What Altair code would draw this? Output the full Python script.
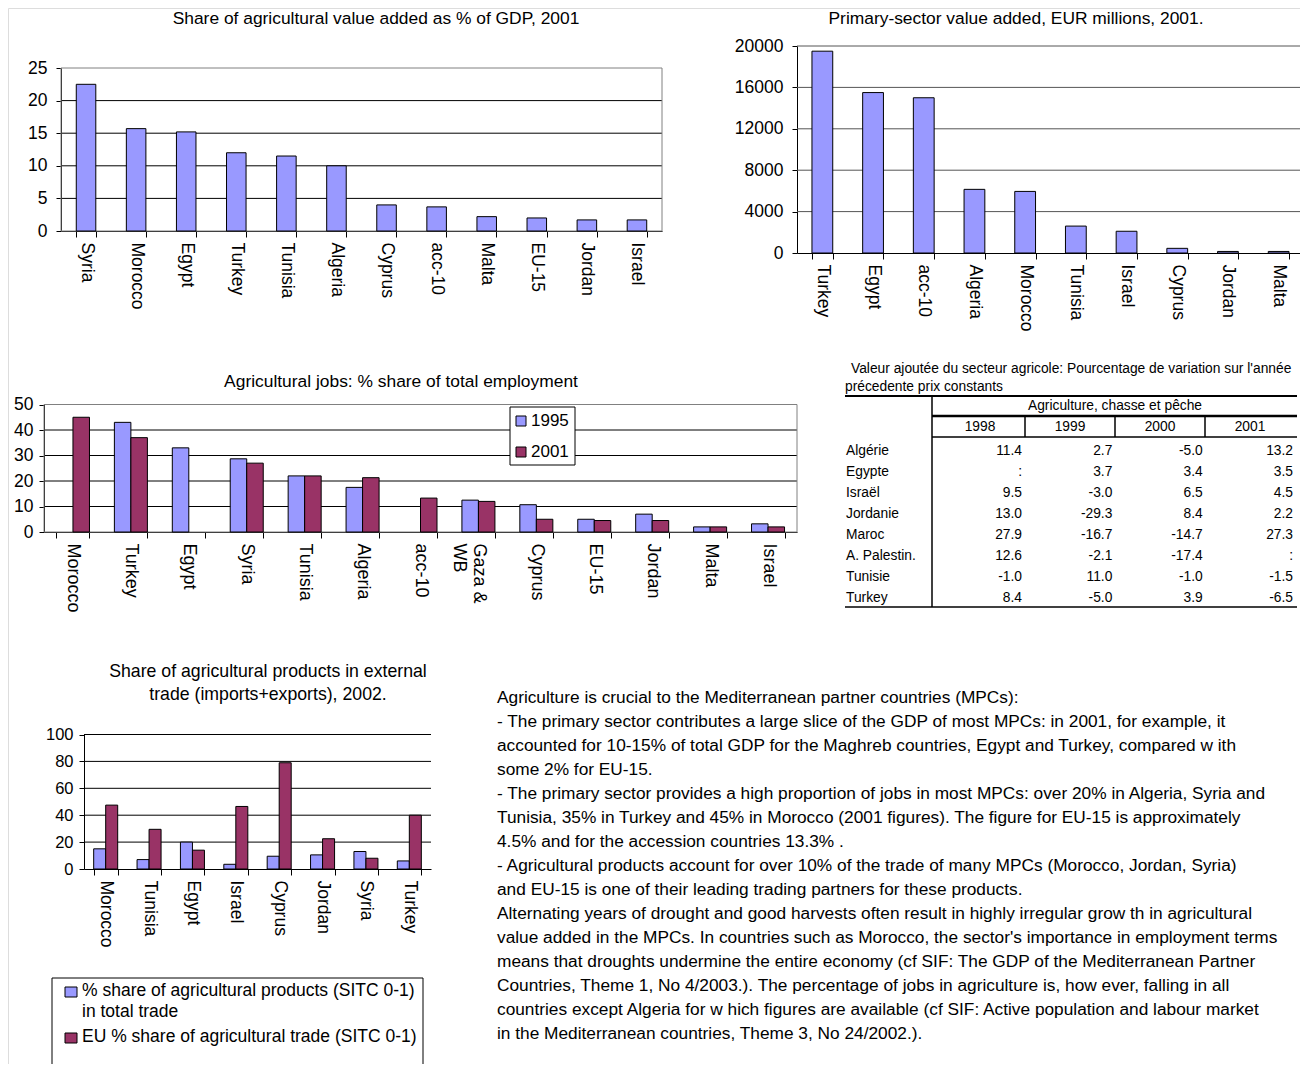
import altair as alt
import pandas as pd

W, H = 1292, 1056
FONT = "Liberation Sans"
BLUE = "#9999FF"
PLUM = "#993366"

# ---------------- data ----------------
A_title = "Share of agricultural value added as % of GDP, 2001"
A_countries = ["Syria", "Morocco", "Egypt", "Turkey", "Tunisia", "Algeria",
               "Cyprus", "acc-10", "Malta", "EU-15", "Jordan", "Israel"]
A_values = [22.5, 15.7, 15.2, 12.0, 11.5, 10.0, 4.0, 3.7, 2.2, 2.0, 1.7, 1.7]
A_ticks = [0, 5, 10, 15, 20, 25]

B_title = "Primary-sector value added, EUR millions, 2001."
B_countries = ["Turkey", "Egypt", "acc-10", "Algeria", "Morocco", "Tunisia",
               "Israel", "Cyprus", "Jordan", "Malta"]
B_values = [19500, 15500, 15000, 6150, 5950, 2600, 2100, 450, 150, 150]
B_ticks = [0, 4000, 8000, 12000, 16000, 20000]

C_title = "Agricultural jobs: % share of total employment"
C_countries = ["Morocco", "Turkey", "Egypt", "Syria", "Tunisia", "Algeria", "acc-10",
               "Gaza & WB", "Cyprus", "EU-15", "Jordan", "Malta", "Israel"]
C_series = ["1995", "2001"]
C_1995 = [None, 43.0, 33.0, 28.7, 22.0, 17.5, None, 12.5, 10.7, 5.0, 7.0, 2.0, 3.2]
C_2001 = [45.0, 37.0, None, 27.0, 22.0, 21.3, 13.3, 12.0, 5.0, 4.5, 4.5, 2.0, 2.0]
C_ticks = [0, 10, 20, 30, 40, 50]

D_title = ["Share of agricultural products in external", "trade (imports+exports), 2002."]
D_countries = ["Morocco", "Tunisia", "Egypt", "Israel", "Cyprus", "Jordan", "Syria", "Turkey"]
D_series = ["share", "eu"]
D_share = [15.0, 7.0, 20.0, 3.5, 9.5, 10.5, 13.0, 6.0]
D_eu = [47.5, 29.5, 14.0, 46.5, 79.0, 22.5, 8.0, 40.0]
D_ticks = [0, 20, 40, 60, 80, 100]
D_legend = ["% share of agricultural products (SITC 0-1)\nin total trade",
            "EU % share of agricultural trade (SITC 0-1)"]

T_title = ["Valeur ajoutée du secteur agricole: Pourcentage de variation sur l'année",
           "précedente prix constants"]
T_group = "Agriculture, chasse et pêche"
T_years = ["1998", "1999", "2000", "2001"]
T_rows = ["Algérie", "Egypte", "Israël", "Jordanie", "Maroc", "A. Palestin.", "Tunisie", "Turkey"]
T_1998 = ["11.4", ":", "9.5", "13.0", "27.9", "12.6", "-1.0", "8.4"]
T_1999 = ["2.7", "3.7", "-3.0", "-29.3", "-16.7", "-2.1", "11.0", "-5.0"]
T_2000 = ["-5.0", "3.4", "6.5", "8.4", "-14.7", "-17.4", "-1.0", "3.9"]
T_2001 = ["13.2", "3.5", "4.5", "2.2", "27.3", ":", "-1.5", "-6.5"]

P_lines = [
    "Agriculture is crucial to the Mediterranean partner countries (MPCs):",
    "- The primary sector contributes a large slice of the GDP of most MPCs: in 2001, for example, it",
    "accounted for 10-15% of total GDP for the Maghreb countries, Egypt and Turkey, compared w ith",
    "some 2% for EU-15.",
    "- The primary sector provides a high proportion of jobs in most MPCs: over 20% in Algeria, Syria and",
    "Tunisia, 35% in Turkey and 45% in Morocco (2001 figures). The figure for EU-15 is approximately",
    "4.5% and for the accession countries 13.3% .",
    "- Agricultural products account for over 10% of the trade of many MPCs (Morocco, Jordan, Syria)",
    "and EU-15 is one of their leading trading partners for these products.",
    "Alternating years of drought and good harvests often result in highly irregular grow th in agricultural",
    "value added in the MPCs. In countries such as Morocco, the sector's importance in employment terms",
    "means that droughts undermine the entire economy (cf SIF: The GDP of the Mediterranean Partner",
    "Countries, Theme 1, No 4/2003.). The percentage of jobs in agriculture is, how ever, falling in all",
    "countries except Algeria for w hich figures are available (cf SIF: Active population and labour market",
    "in the Mediterranean countries, Theme 3, No 24/2002.).",
]

ONE = pd.DataFrame({"k": [0]})
TS = 17.4    # title size
TB = 13.8    # table text size


# ---------------- helpers ----------------
def x_axis(bottom, size=17.5, expr=None):
    kw = dict(title=None, orient="bottom", offset=bottom - H, labelAngle=90,
              tickBand="extent", labelFont=FONT, labelFontSize=size, labelColor="black",
              domainColor="black", tickColor="black", tickSize=6, labelPadding=5,
              labelOverlap=False, grid=False, labelLineHeight=size + 2)
    if expr:
        kw["labelExpr"] = expr
    return alt.Axis(**kw)


def y_axis(left, values, size=17.5, pad=8):
    return alt.Axis(title=None, orient="left", offset=-left, values=values, format="d",
                    labelFont=FONT, labelFontSize=size, labelColor="black",
                    domainColor="black", tickColor="black", tickSize=5, labelPadding=pad,
                    grid=False)


def text(s, x, y, size=TS, align="center", baseline="middle", **kw):
    return alt.Chart(pd.DataFrame({"t": [s]})).mark_text(
        font=FONT, fontSize=size, align=align, baseline=baseline, color="black", **kw
    ).encode(x=alt.value(x), y=alt.value(y), text="t:N")


def hrule(x1, x2, y, w=1.0, color="black"):
    return alt.Chart(ONE).mark_rule(color=color, strokeWidth=w).encode(
        x=alt.value(x1), x2=alt.value(x2), y=alt.value(y))


def vrule(x, y1, y2, w=1.0, color="black"):
    return alt.Chart(ONE).mark_rule(color=color, strokeWidth=w).encode(
        x=alt.value(x), y=alt.value(y1), y2=alt.value(y2))


def box(x1, x2, y1, y2, stroke="#808080", fill="white", opacity=0.0):
    return alt.Chart(ONE).mark_rect(fill=fill, fillOpacity=opacity, stroke=stroke,
                                    strokeWidth=1).encode(
        x=alt.value(x1), x2=alt.value(x2), y=alt.value(y1), y2=alt.value(y2))


def simple_block(countries, values, ticks, grid_vals, xr, yr, pin, ycolor, border, ypad):
    X = alt.X("country:N", sort=countries,
              scale=alt.Scale(domain=countries, range=xr, paddingInner=pin, paddingOuter=pin / 2),
              axis=x_axis(yr[0]))
    Y = alt.Y("value:Q", scale=alt.Scale(domain=[ticks[0], ticks[-1]], range=yr, nice=False, zero=True),
              axis=y_axis(xr[0], ticks, pad=ypad))
    grid = alt.Chart(pd.DataFrame({"value": grid_vals})).mark_rule(
        color=ycolor, strokeWidth=1).encode(y=Y, x=alt.value(xr[0]), x2=alt.value(xr[1]))
    bars = alt.Chart(pd.DataFrame({"country": countries, "value": values})).mark_bar(
        fill=BLUE, stroke="black", strokeWidth=1).encode(x=X, y=Y)
    layers = [grid]
    if border:
        layers.append(box(xr[0], xr[1], yr[1], yr[0]))
    layers.append(bars)
    return alt.layer(*layers)


def group_block(countries, series, s1, s2, ticks, grid_vals, xr, yr, pin, xsize, ysize, expr, border):
    rows = []
    for c, a, b in zip(countries, s1, s2):
        if a is not None:
            rows.append({"country": c, "series": series[0], "value": a})
        if b is not None:
            rows.append({"country": c, "series": series[1], "value": b})
    X = alt.X("country:N", sort=countries,
              scale=alt.Scale(domain=countries, range=xr, paddingInner=pin, paddingOuter=pin / 2),
              axis=x_axis(yr[0], xsize, expr))
    Y = alt.Y("value:Q", scale=alt.Scale(domain=[ticks[0], ticks[-1]], range=yr, nice=False, zero=True),
              axis=y_axis(xr[0], ticks, ysize, pad=6))
    grid = alt.Chart(pd.DataFrame({"value": grid_vals})).mark_rule(
        color="black", strokeWidth=1).encode(y=Y, x=alt.value(xr[0]), x2=alt.value(xr[1]))
    bars = alt.Chart(pd.DataFrame(rows)).mark_bar(stroke="black", strokeWidth=1).encode(
        x=X, y=Y,
        xOffset=alt.XOffset("series:N", sort=series,
                            scale=alt.Scale(domain=series, paddingInner=0, paddingOuter=0)),
        color=alt.Color("series:N", scale=alt.Scale(domain=series, range=[BLUE, PLUM]), legend=None),
    )
    layers = [grid]
    if border:
        layers.append(box(xr[0], xr[1], yr[1], yr[0]))
    layers.append(bars)
    return alt.layer(*layers)


# ---------------- chart A ----------------
blockA = simple_block(A_countries, A_values, A_ticks, [5, 10, 15, 20],
                      [53, 654], [223, 60], 0.61, "black", True, 9)
titleA = text(A_title, 368, 11)

# ---------------- chart B ----------------
blockB = simple_block(B_countries, B_values, B_ticks, [4000, 8000, 12000, 16000, 20000],
                      [789, 1296], [245, 38], 0.59, "#555555", False, 9)
titleB = text(B_title, 1008, 11)

# ---------------- chart C ----------------
blockC = group_block(C_countries, C_series, C_1995, C_2001, C_ticks, [10, 20, 30, 40],
                     [36, 789], [524, 396.5], 0.43, 18, 17.5,
                     "datum.label == 'Gaza & WB' ? ['Gaza &', 'WB'] : datum.label", True)
titleC = text(C_title, 393, 374)
legC = [box(502, 567, 399, 457, stroke="black", opacity=1.0)]
for i, (s, col) in enumerate(zip(C_series, [BLUE, PLUM])):
    yc = 413 + 31 * i
    legC.append(box(508, 518, yc - 5, yc + 5, stroke="black", fill=col, opacity=1.0))
    legC.append(text(s, 523, yc, size=17, align="left"))

# ---------------- chart D ----------------
blockD = group_block(D_countries, D_series, D_share, D_eu, D_ticks, [20, 40, 60, 80, 100],
                     [76, 423], [861, 726.5], 0.446, 17.5, 16.5, None, False)
titleD = [text(D_title[0], 260, 664, size=17.7), text(D_title[1], 260, 687, size=17.7)]
legD = [box(44, 415, 970, H + 5, stroke="black", opacity=1.0),
        box(57, 69, 979, 989, stroke="black", fill=BLUE, opacity=1.0),
        box(57, 69, 1025, 1035, stroke="black", fill=PLUM, opacity=1.0),
        alt.Chart(pd.DataFrame({"t": [D_legend[0]]})).mark_text(
            font=FONT, fontSize=17.5, align="left", baseline="middle", lineBreak="\n",
            lineHeight=21.5, color="black").encode(x=alt.value(74), y=alt.value(982.5), text="t:N"),
        text(D_legend[1], 74, 1028.5, size=17.5, align="left")]

# ---------------- table ----------------
cells = []
for yr_, col in zip(T_years, [T_1998, T_1999, T_2000, T_2001]):
    for r, v in zip(T_rows, col):
        cells.append({"year": yr_, "row": r, "v": v})
cells = pd.DataFrame(cells)
TY = alt.Y("row:N", sort=T_rows,
           scale=alt.Scale(type="point", domain=T_rows, range=[443, 590], padding=0), axis=None)
t_vals = alt.Chart(cells).mark_text(font=FONT, fontSize=TB, align="right", baseline="middle",
                                    color="black").encode(
    x=alt.X("year:N", sort=T_years,
            scale=alt.Scale(type="point", domain=T_years, range=[1014, 1285], padding=0), axis=None),
    y=TY, text="v:N")
t_names = alt.Chart(pd.DataFrame({"row": T_rows})).mark_text(
    font=FONT, fontSize=TB, align="left", baseline="middle", color="black").encode(
    x=alt.value(838), y=TY, text="row:N")
tableBody = alt.layer(t_vals, t_names)
tableHead = alt.Chart(pd.DataFrame({"year": T_years})).mark_text(
    font=FONT, fontSize=TB, align="center", baseline="middle", color="black").encode(
    x=alt.X("year:N", sort=T_years,
            scale=alt.Scale(type="point", domain=T_years, range=[972, 1242], padding=0), axis=None),
    y=alt.value(419), text="year:N")
tableDeco = [
    text(T_title[0], 843, 361, size=TB, align="left"),
    text(T_title[1], 837, 379, size=TB, align="left"),
    hrule(837, 1289, 388, 2),
    vrule(924, 388, 599, 1.5),
    text(T_group, 1107, 398, size=TB),
    hrule(924, 1289, 408, 2.5),
    vrule(1017, 408, 429, 1.5),
    vrule(1107, 408, 429, 1.5),
    vrule(1197, 408, 429, 1.5),
    hrule(924, 1289, 429, 1.5),
    hrule(837, 1289, 599, 1.5),
]

# ---------------- paragraph ----------------
para = alt.Chart(pd.DataFrame({"i": list(range(len(P_lines))), "t": P_lines})).mark_text(
    font=FONT, fontSize=17.3, align="left", baseline="middle", color="black").encode(
    x=alt.value(489),
    y=alt.Y("i:Q", scale=alt.Scale(domain=[0, len(P_lines) - 1], range=[690, 1026], nice=False, zero=False),
            axis=None),
    text="t:N")

layers = [blockA, titleA, blockB, titleB, blockC, titleC, *legC, blockD, *titleD, *legD,
          tableBody, tableHead, *tableDeco, para]

chart = alt.layer(*layers).resolve_scale(
    x="independent", y="independent", color="independent", xOffset="independent"
).properties(
    width=W, height=H, padding=0, autosize=alt.AutoSizeParams(type="none")
).configure_view(stroke="transparent", strokeWidth=0).configure(font=FONT)

chart.save("out.html", embed_options={"renderer": "svg", "actions": False})
